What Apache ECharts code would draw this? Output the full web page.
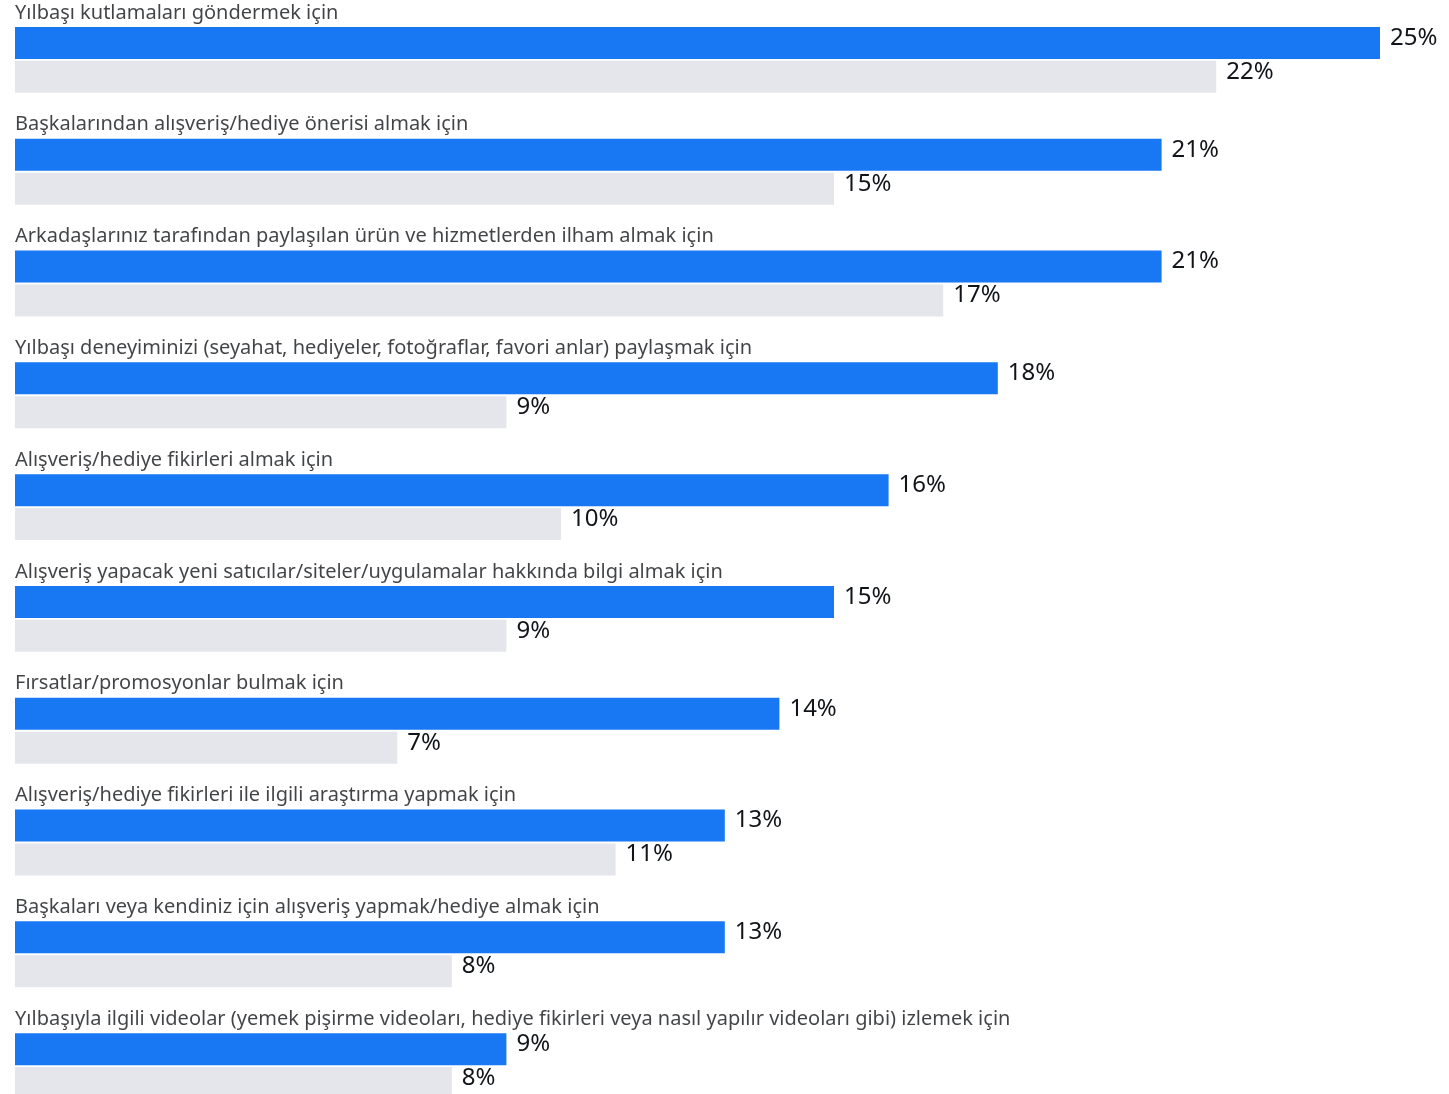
<!DOCTYPE html>
<html><head><meta charset="utf-8">
<script src="https://cdn.jsdelivr.net/npm/echarts@6/dist/echarts.min.js"></script>
<style>html,body{margin:0;padding:0;background:#fff}#c{width:1449px;height:1094px}</style>
</head><body><div id="c"></div>
<script>
const categories = [
  "Yılbaşı kutlamaları göndermek için",
  "Başkalarından alışveriş/hediye önerisi almak için",
  "Arkadaşlarınız tarafından paylaşılan ürün ve hizmetlerden ilham almak için",
  "Yılbaşı deneyiminizi (seyahat, hediyeler, fotoğraflar, favori anlar) paylaşmak için",
  "Alışveriş/hediye fikirleri almak için",
  "Alışveriş yapacak yeni satıcılar/siteler/uygulamalar hakkında bilgi almak için",
  "Fırsatlar/promosyonlar bulmak için",
  "Alışveriş/hediye fikirleri ile ilgili araştırma yapmak için",
  "Başkaları veya kendiniz için alışveriş yapmak/hediye almak için",
  "Yılbaşıyla ilgili videolar (yemek pişirme videoları, hediye fikirleri veya nasıl yapılır videoları gibi) izlemek için"
];
const blueValues = [25, 21, 21, 18, 16, 15, 14, 13, 13, 9];
const greyValues = [22, 15, 17, 9, 10, 9, 7, 11, 8, 8];

const FONT = '"Noto Sans", sans-serif';
const TXT = '#111418';
const chart = echarts.init(document.getElementById('c'), null, {renderer: 'canvas'});
chart.setOption({
  animation: false,
  grid: {left: 15, width: 1365, top: 4, height: 1118, outerBoundsMode: 'none', containLabel: false},
  xAxis: {type: 'value', min: 0, max: 25, show: false},
  yAxis: {type: 'category', data: categories, inverse: true, show: false},
  series: [
    {
      type: 'bar', data: blueValues, barWidth: 32, barGap: '6%',
      itemStyle: {color: '#1877f2'},
      label: {show: true, position: 'right', distance: 10, offset: [0, -5],
        formatter: '{c}%', fontFamily: FONT, fontSize: 24, color: TXT}
    },
    {
      type: 'bar', data: greyValues, barWidth: 32,
      itemStyle: {color: '#e4e6eb'},
      label: {show: true, position: 'right', distance: 10, offset: [0, -5],
        formatter: '{c}%', fontFamily: FONT, fontSize: 24, color: TXT}
    },
    {
      type: 'scatter', silent: true, symbolSize: 0,
      data: categories.map((c, i) => [0, i]),
      label: {show: true, position: 'right', distance: 0, offset: [0, -47],
        formatter: p => categories[p.dataIndex], fontFamily: FONT, fontSize: 20, color: TXT}
    }
  ]
});
</script></body></html>
